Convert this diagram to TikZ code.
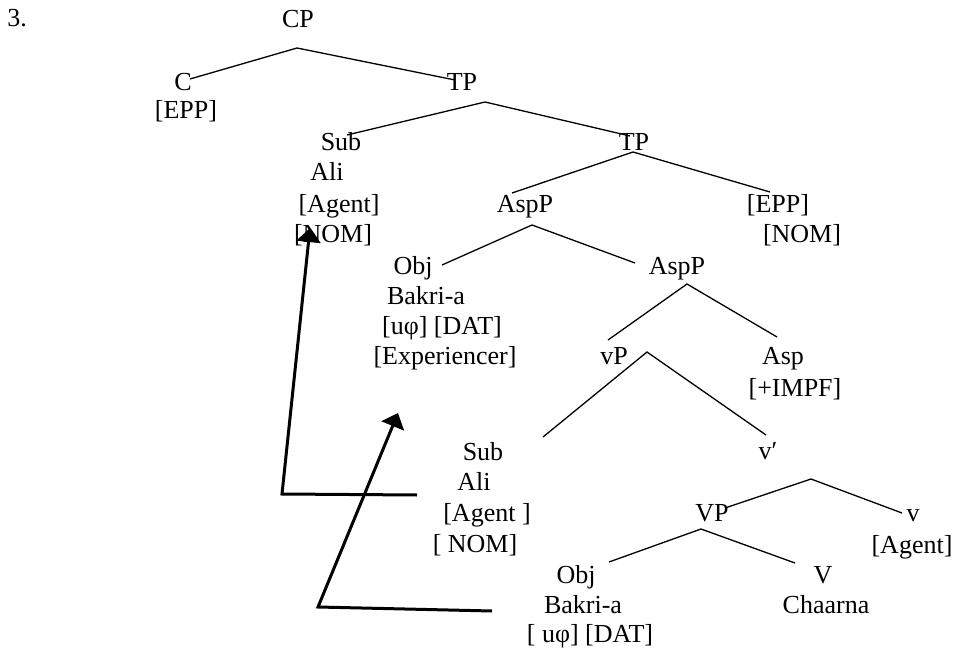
\documentclass[tikz,border=0pt]{standalone}
\usepackage{fontspec}
\setmainfont{Liberation Serif}
\usetikzlibrary{arrows.meta}
\tikzset{word/.style={font=\fontsize{26}{30}\selectfont, inner sep=0pt, outer sep=0pt, text height=17.2pt, text depth=0pt}}
\tikzset{branch/.style={line width=1.3pt}}
\tikzset{movearrow/.style={line width=3pt, -{Triangle[length=14pt,width=24pt]}}}

\begin{document}
\begin{tikzpicture}[x=1pt,y=-1pt]
	\useasboundingbox (0,0) rectangle (956,650);
	% words of the tree, one node per printed line
	\node[word] (num) at (17,18) {3.};
	\node[word] (cp) at (298,19) {CP};
	\node[word] (c) at (183,82) {C};
	\node[word] (cepp) at (186,110) {[EPP]};
	\node[word] (tpa) at (462,82) {TP};
	\node[word] (subA) at (341,142) {Sub};
	\node[word] (aliA) at (327,172) {Ali};
	\node[word] (agentA) at (339,204) {[Agent]};
	\node[word] (nomA) at (333,234) {[NOM]};
	\node[word] (tpb) at (634,142) {TP};
	\node[word] (aspa) at (525,204) {AspP};
	\node[word] (tepp) at (778,204) {[EPP]};
	\node[word] (nomB) at (802,234) {[NOM]};
	\node[word] (objA) at (413,266) {Obj};
	\node[word] (bakriA) at (426,296) {Bakri-a};
	\node[word] (phiA) at (442,326) {[uφ] [DAT]};
	\node[word] (exper) at (445,356) {[Experiencer]};
	\node[word] (aspb) at (677,266) {AspP};
	\node[word] (vp) at (614,356) {vP};
	\node[word] (asp) at (783,356) {Asp};
	\node[word] (impf) at (795,388) {[+IMPF]};
	\node[word] (subB) at (483,452) {Sub};
	\node[word] (aliB) at (474,482) {Ali};
	\node[word] (agentB) at (487,513) {[Agent ]};
	\node[word] (nomC) at (475,544) {[ NOM]};
	\node[word] (vbar) at (768,451) {v′};
	\node[word] (vpb) at (712,513) {VP};
	\node[word] (v) at (913,513) {v};
	\node[word] (agentC) at (912,545) {[Agent]};
	\node[word] (objB) at (576,575) {Obj};
	\node[word] (bakriB) at (583,605) {Bakri-a};
	\node[word] (phiB) at (590,634) {[ uφ] [DAT]};
	\node[word] (verb) at (823,575) {V};
	\node[word] (chaarna) at (826,605) {Chaarna};

	% fork (f) under each mother, left (l) and right (r) branch ends
	\coordinate (cp-f) at (297,48);   \coordinate (cp-l) at (190,79);   \coordinate (cp-r) at (455,80);
	\coordinate (tpa-f) at (485,102); \coordinate (tpa-l) at (347,135); \coordinate (tpa-r) at (630,136);
	\coordinate (tpb-f) at (633,152); \coordinate (tpb-l) at (512,193); \coordinate (tpb-r) at (770,192);
	\coordinate (aspa-f) at (532,225); \coordinate (aspa-l) at (442,265); \coordinate (aspa-r) at (635,263);
	\coordinate (aspb-f) at (687,284); \coordinate (aspb-l) at (608,340); \coordinate (aspb-r) at (777,337);
	\coordinate (vp-f) at (647,352);  \coordinate (vp-l) at (543,437);  \coordinate (vp-r) at (766,435);
	\coordinate (vbar-f) at (811,479); \coordinate (vbar-l) at (725,508); \coordinate (vbar-r) at (902,513);
	\coordinate (vpb-f) at (701,529); \coordinate (vpb-l) at (609,562); \coordinate (vpb-r) at (795,563);
	\foreach \m in {cp,tpa,tpb,aspa,aspb,vp,vbar,vpb}
		\draw[branch] (\m-l) -- (\m-f) -- (\m-r);

	% movement of subject and object
	\coordinate (subB-trace) at (417,495); \coordinate (subB-bend) at (282,494); \coordinate (subB-land) at (310,228);
	\coordinate (objB-trace) at (492,611); \coordinate (objB-bend) at (318,607); \coordinate (objB-land) at (398,413);
	\draw[movearrow] (subB-trace) -- (subB-bend) -- (subB-land);
	\draw[movearrow] (objB-trace) -- (objB-bend) -- (objB-land);
\end{tikzpicture}
\end{document}
